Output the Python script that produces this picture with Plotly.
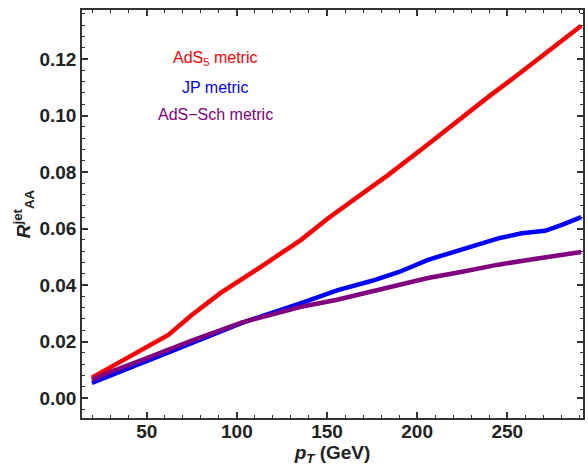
import plotly.graph_objects as go

# Jet nuclear modification factor vs jet pT for three background metrics
pt_ads5 = [19.6, 30, 45, 62, 75, 91, 113.5, 135.6, 151, 168, 184, 205, 223, 239.5, 256, 272.6, 289, 291]
r_ads5 = [0.0072, 0.0110, 0.0165, 0.0223, 0.0294, 0.0372, 0.0465, 0.0560, 0.0638, 0.0715, 0.0790,
          0.0893, 0.0985, 0.1066, 0.1145, 0.1226, 0.1310, 0.1318]

pt_jp = [19.6, 30, 45, 60, 75, 102.5, 135.6, 156, 175, 190, 206, 225, 245, 258, 266, 271, 281, 291]
r_jp = [0.0053, 0.0081, 0.0118, 0.0156, 0.0193, 0.0265, 0.0336, 0.0382, 0.0415, 0.0446, 0.0489,
        0.0525, 0.0565, 0.0583, 0.0588, 0.0592, 0.0615, 0.0640]

pt_sch = [19.6, 30, 45, 60, 75, 102.5, 135.6, 155, 157, 163, 180, 190, 206, 225, 245, 265, 280, 291]
r_sch = [0.0064, 0.0093, 0.0129, 0.0168, 0.0203, 0.0267, 0.0323, 0.0347, 0.0350, 0.0362, 0.0385,
         0.0400, 0.0425, 0.0447, 0.0472, 0.0492, 0.0505, 0.0517]

x_ticks = [50, 100, 150, 200, 250]
y_ticks = [0.00, 0.02, 0.04, 0.06, 0.08, 0.10, 0.12]

labels = ["AdS<sub>5</sub> metric", "JP metric", "AdS\u2212Sch metric"]
colors = ["#FF0000", "#0000FF", "#800080"]
label_y = [0.882, 0.811, 0.743]

FONT = "Liberation Sans, Arial, sans-serif"

fig = go.Figure()
for px, ry, c in [(pt_ads5, r_ads5, colors[0]), (pt_jp, r_jp, colors[1]), (pt_sch, r_sch, colors[2])]:
    fig.add_trace(go.Scatter(x=px, y=ry, mode="lines", line=dict(color=c, width=4.5),
                             showlegend=False, hoverinfo="skip"))

for txt, c, yy in zip(labels, colors, label_y):
    fig.add_annotation(x=0.266, y=yy, xref="paper", yref="paper",
                       text=txt, showarrow=False, xanchor="center", yanchor="middle",
                       font=dict(family=FONT, size=16, color=c))

font_bold = dict(family=FONT, size=19, color="#222222", weight="bold")

axis_common = dict(
    showline=True, linecolor="#333333", linewidth=1.5, mirror="allticks",
    ticks="inside", ticklen=6, tickwidth=1.5, tickcolor="#333333",
    showgrid=False, zeroline=False, tickfont=font_bold,
)

fig.update_xaxes(range=[14.1, 292.0], tickvals=x_ticks, ticktext=[str(v) for v in x_ticks],
                 ticklabelstandoff=-5,
                 minor=dict(dtick=10, tick0=0, ticks="inside", ticklen=3, tickwidth=1.2, tickcolor="#333333"),
                 title=dict(text="<b><i>p<sub>T</sub></i> (GeV)</b>", font=dict(family=FONT, size=19, color="#222222"), standoff=4),
                 **axis_common)
fig.update_yaxes(range=[-0.00708, 0.13735], tickvals=y_ticks, ticktext=[f"{v:.2f}" for v in y_ticks],
                 minor=dict(dtick=0.004, tick0=0, ticks="inside", ticklen=3, tickwidth=1.2, tickcolor="#333333"),
                 title=dict(text="<b><i>R</i><sup>jet</sup><sub>AA</sub></b>", font=dict(family=FONT, size=19, color="#222222"), standoff=4),
                 **axis_common)

fig.update_layout(width=588, height=468, margin=dict(l=82, r=3, t=10, b=50),
                  plot_bgcolor="white", paper_bgcolor="white")

fig.write_html("out.html")
